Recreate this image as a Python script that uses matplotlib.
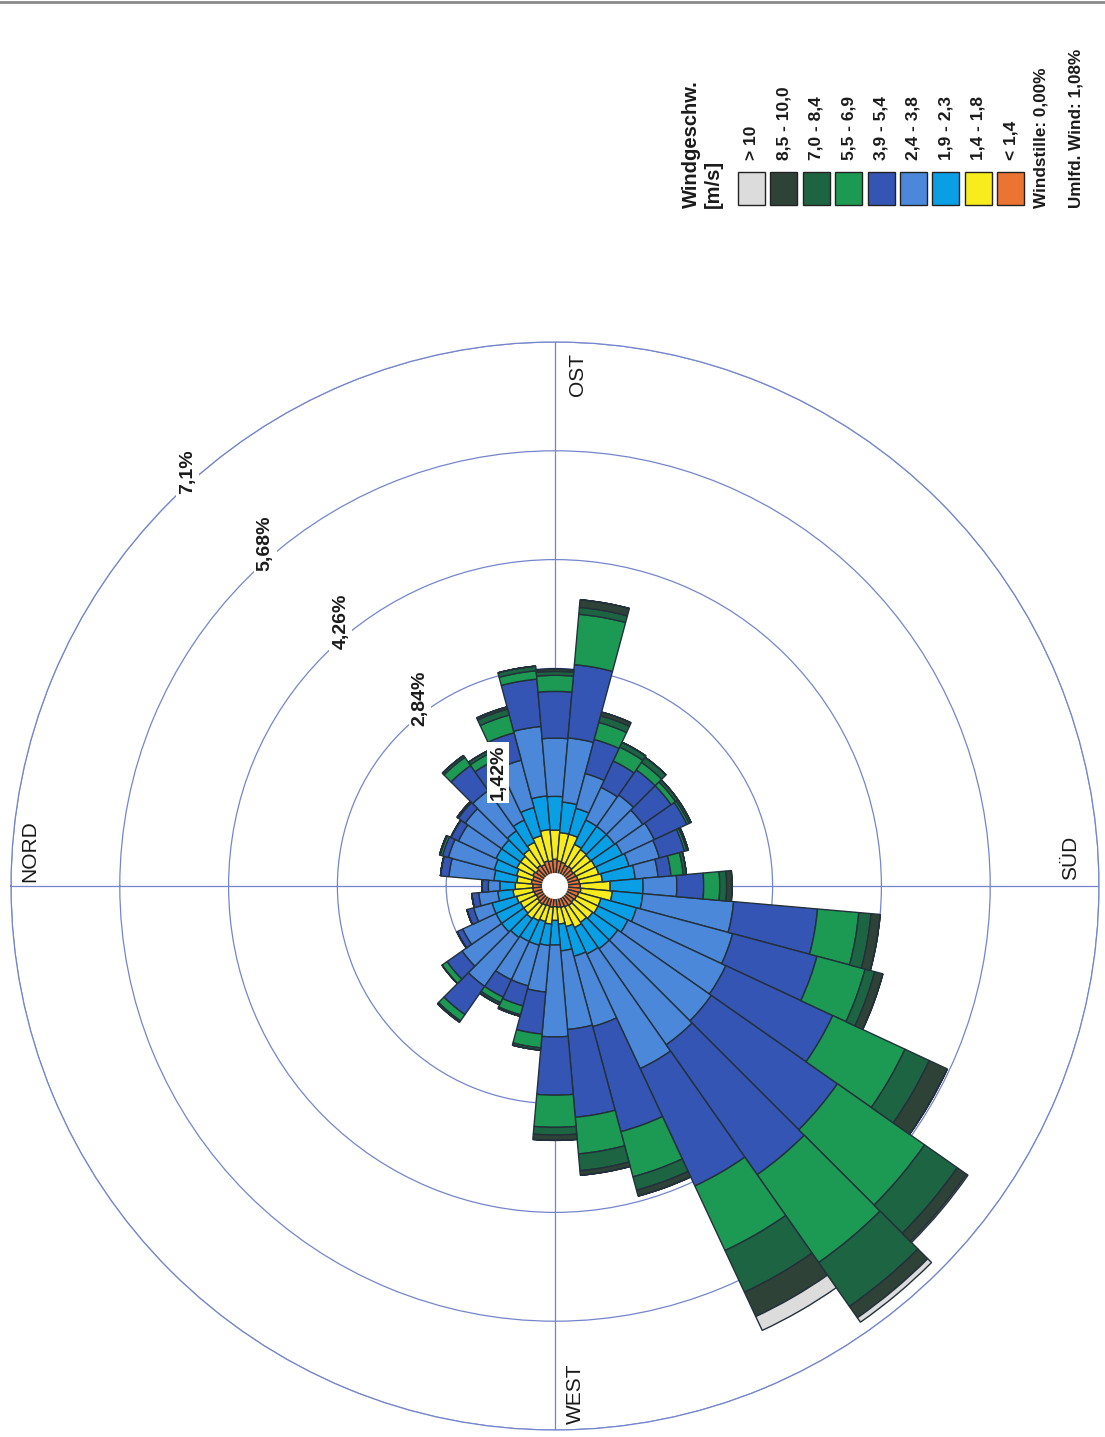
import numpy as np
import matplotlib.pyplot as plt
from matplotlib.patches import Rectangle
from matplotlib.lines import Line2D

plt.rcParams['font.family'] = ['Liberation Sans', 'DejaVu Sans']

W, H = 1105, 1437  # Bildgröße in Pixel

# Windrichtungssektoren (Grad, 0 = Nord, im Uhrzeigersinn)
richtung = np.arange(0, 360, 10)

# Häufigkeit je Geschwindigkeitsklasse und Sektor [%]
v_unter_1_4 = [0.29, 0.31, 0.30, 0.32, 0.30, 0.33, 0.31, 0.34, 0.33, 0.35, 0.33, 0.32,
               0.30, 0.31, 0.29, 0.30, 0.31, 0.32, 0.33, 0.34, 0.32, 0.31, 0.30, 0.31,
               0.30, 0.29, 0.28, 0.27, 0.28, 0.27, 0.28, 0.29, 0.28, 0.27, 0.28, 0.29]
v_1_4_1_8 = [0.23, 0.19, 0.22, 0.23, 0.25, 0.25, 0.32, 0.34, 0.41, 0.38, 0.37, 0.38,
             0.30, 0.27, 0.28, 0.28, 0.28, 0.30, 0.39, 0.41, 0.30, 0.31, 0.30, 0.27,
             0.30, 0.26, 0.22, 0.18, 0.22, 0.21, 0.22, 0.23, 0.22, 0.23, 0.24, 0.26]
v_1_9_2_3 = [0.20, 0.30, 0.30, 0.30, 0.30, 0.30, 0.32, 0.38, 0.44, 0.44, 0.40, 0.35,
             0.35, 0.37, 0.38, 0.39, 0.41, 0.43, 0.43, 0.40, 0.48, 0.43, 0.40, 0.42,
             0.38, 0.40, 0.35, 0.32, 0.28, 0.32, 0.30, 0.30, 0.35, 0.35, 0.33, 0.20]
v_2_4_3_8 = [0.15, 0.59, 0.62, 0.54, 0.58, 0.64, 0.60, 0.64, 0.91, 0.76, 0.84, 0.47,
             0.47, 0.50, 0.45, 0.46, 0.41, 0.30, 0.44, 1.19, 1.30, 1.41, 1.49, 1.53,
             1.65, 0.95, 1.03, 1.20, 0.61, 0.55, 0.55, 0.78, 0.63, 0.48, 0.25, 0.25]
v_3_9_5_4 = [0.08, 0.11, 0.08, 0.11, 0.11, 0.40, 0.27, 0.37, 0.62, 0.61, 0.96, 0.46,
             0.38, 0.40, 0.45, 0.47, 0.34, 0.17, 0.35, 1.10, 1.14, 1.54, 2.01, 2.07,
             1.69, 1.42, 1.15, 0.76, 0.55, 0.27, 0.25, 0.45, 0.24, 0.08, 0.09, 0.09]
v_5_5_6_9 = [0.00, 0.00, 0.03, 0.00, 0.02, 0.13, 0.11, 0.24, 0.11, 0.21, 0.66, 0.23,
             0.20, 0.12, 0.07, 0.03, 0.03, 0.16, 0.21, 0.54, 0.65, 1.04, 1.39, 1.40,
             0.93, 0.61, 0.48, 0.42, 0.18, 0.12, 0.08, 0.10, 0.08, 0.00, 0.00, 0.00]
v_7_0_8_4 = [0.00, 0.00, 0.01, 0.00, 0.00, 0.03, 0.04, 0.08, 0.06, 0.05, 0.09, 0.09,
             0.07, 0.08, 0.04, 0.03, 0.02, 0.04, 0.09, 0.16, 0.13, 0.35, 0.52, 0.70,
             0.60, 0.18, 0.22, 0.10, 0.03, 0.02, 0.03, 0.02, 0.00, 0.00, 0.00, 0.00]
v_8_5_10 = [0.00, 0.00, 0.00, 0.00, 0.00, 0.00, 0.00, 0.03, 0.00, 0.03, 0.10, 0.05,
            0.00, 0.00, 0.00, 0.00, 0.00, 0.00, 0.07, 0.12, 0.11, 0.26, 0.15, 0.18,
            0.35, 0.08, 0.06, 0.07, 0.00, 0.00, 0.00, 0.00, 0.00, 0.00, 0.00, 0.00]
v_ueber_10 = [0.00, 0.00, 0.00, 0.00, 0.00, 0.00, 0.00, 0.00, 0.00, 0.00, 0.00, 0.00,
              0.00, 0.00, 0.00, 0.00, 0.00, 0.00, 0.00, 0.00, 0.00, 0.00, 0.02, 0.07,
              0.20, 0.00, 0.00, 0.00, 0.00, 0.00, 0.00, 0.00, 0.00, 0.00, 0.00, 0.00]

klassen = ['< 1,4', '1,4 - 1,8', '1,9 - 2,3', '2,4 - 3,8', '3,9 - 5,4',
           '5,5 - 6,9', '7,0 - 8,4', '8,5 - 10,0', '> 10']
farben = ['#ec7433', '#f8ec1c', '#0a9fe4', '#4b88da', '#3455b3',
          '#1c9952', '#1d6443', '#2f4238', '#dcdcdc']
werte = [v_unter_1_4, v_1_4_1_8, v_1_9_2_3, v_2_4_3_8, v_3_9_5_4,
         v_5_5_6_9, v_7_0_8_4, v_8_5_10, v_ueber_10]

ringe = [1.42, 2.84, 4.26, 5.68, 7.1]
ring_text = ['1,42%', '2,84%', '4,26%', '5,68%', '7,1%']
gitter = '#7585cc'


def fx(px):
    return px / W


def fy(py):
    return 1 - py / H


fig = plt.figure(figsize=(W / 100, H / 100), dpi=100)
fig.patch.set_facecolor('white')

# Polardiagramm: Nord links, Ost oben
ax = fig.add_axes([fx(11), fy(1430), 1088 / W, 1088 / H], projection='polar')
ax.set_theta_zero_location('W')
ax.set_theta_direction(-1)
ax.set_rlim(0, 7.1)
ax.set_axisbelow(True)

theta = np.radians(richtung)
breite = np.radians(10)
unten = np.zeros(len(richtung))
for w, c in zip(werte, farben):
    w = np.array(w)
    ax.bar(theta, w, width=breite, bottom=unten, color=c,
           edgecolor='#22303a', linewidth=1.0, zorder=3)
    unten = unten + w

# weisses Loch in der Mitte
ax.bar(0, 0.17, width=2 * np.pi, bottom=0, color='white', edgecolor='none', zorder=5)

ax.set_rticks(ringe)
ax.set_yticklabels([])
ax.set_xticks(np.radians([0, 90, 180, 270]))
ax.set_xticklabels([])
ax.grid(True, color=gitter, linewidth=0.9)
ax.spines['polar'].set_color(gitter)
ax.spines['polar'].set_linewidth(0.9)

# Beschriftung der Ringe
ring_pos = [(63.4, 1.66), (54.3, 3.02), (51.0, 4.44), (49.8, 5.86), (48.4, 7.23)]
for (wk, r), t in zip(ring_pos, ring_text):
    ax.text(np.radians(wk), r, t, rotation=90, ha='center', va='center',
            fontsize=14, fontweight='bold', color='#1a1a1a', zorder=6,
            bbox=dict(boxstyle='square,pad=0.15', fc='white', ec='none'))

# Himmelsrichtungen
for t, x, y in [('NORD', 30, 851), ('OST', 578, 375), ('SÜD', 1071, 858), ('WEST', 575, 1394)]:
    fig.text(fx(x), fy(y), t, rotation=90, ha='center', va='center',
             fontsize=15, color='#1a1a1a')

# Legende
fig.text(fx(691), fy(208), 'Windgeschw.', rotation=90, ha='center', va='bottom',
         fontsize=14.5, fontweight='bold', color='#1a1a1a')
fig.text(fx(713), fy(208), '[m/s]', rotation=90, ha='center', va='bottom',
         fontsize=14.5, fontweight='bold', color='#1a1a1a')
for i, (k, c) in enumerate(zip(klassen[::-1], farben[::-1])):
    x0 = 738 + i * 32.4
    fig.add_artist(Rectangle((fx(x0), fy(205)), 27 / W, 33 / H, facecolor=c,
                             edgecolor='#222222', linewidth=1.0,
                             transform=fig.transFigure))
    fig.text(fx(x0 + 13.5), fy(160), k, rotation=90, ha='center', va='bottom',
             fontsize=12.5, fontweight='bold', color='#1a1a1a')
fig.text(fx(1041), fy(208), 'Windstille: 0,00%', rotation=90, ha='center',
         va='bottom', fontsize=12.3, fontweight='bold', color='#1a1a1a')
fig.text(fx(1076), fy(208), 'Umlfd. Wind: 1,08%', rotation=90, ha='center',
         va='bottom', fontsize=12.3, fontweight='bold', color='#1a1a1a')

# Rand oben
fig.add_artist(Line2D([0, 1], [fy(2), fy(2)], color='#8a8a8a', linewidth=2,
                      transform=fig.transFigure))

fig.savefig('out.png', dpi=100)
